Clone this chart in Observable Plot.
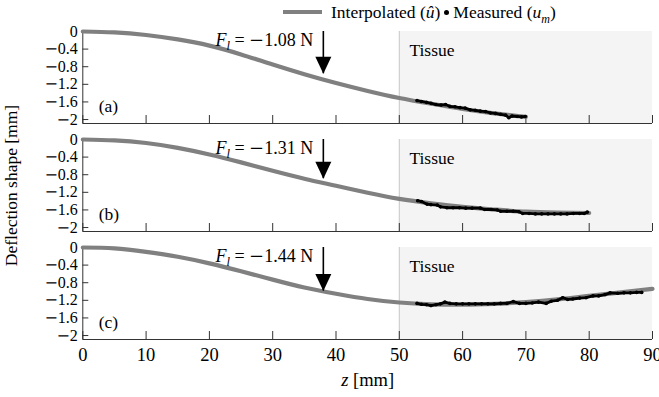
<!DOCTYPE html>
<html><head><meta charset="utf-8">
<script src="https://cdn.jsdelivr.net/npm/d3@7"></script>
<script src="https://cdn.jsdelivr.net/npm/@observablehq/plot@0.6"></script>
<style>
body{margin:0;background:#fff;font-family:"Liberation Serif","Times New Roman",Times,"DejaVu Serif",serif;}
#legend{height:24px;display:flex;align-items:center;padding-left:283px;font-size:17.5px;white-space:nowrap;color:#000;}
.sw{display:inline-block;width:39px;height:4px;background:#808080;margin-right:9px;}
.dot{display:inline-block;width:5px;height:5px;border-radius:50%;background:#000;margin:0 4px;}
sub{font-size:12px;line-height:0;}
</style></head><body>
<div id="legend"><span class="sw"></span>Interpolated (<i>û</i>)<span class="dot"></span>Measured (<i>u<sub>m</sub></i>)</div>
<div id="chart"></div>
<script>
const panels = ["a", "b", "c"];
const panelLabels = ["(a)", "(b)", "(c)"];
const forces = ["−1.08", "−1.31", "−1.44"];
const xTicks = [0, 10, 20, 30, 40, 50, 60, 70, 80, 90];
const yTicks = [0, -0.4, -0.8, -1.2, -1.6, -2];

// interpolated deflection shape û (every 5 mm)
const zHat = [0, 5, 10, 15, 20, 25, 30, 35, 40, 45, 50, 55, 60, 65, 70, 75, 80, 85, 90];
const uHatA = [0, -0.02, -0.08, -0.18, -0.32, -0.52, -0.75, -0.97, -1.17, -1.35, -1.51, -1.64, -1.76, -1.86, -1.94];
const uHatB = [0, -0.02, -0.08, -0.19, -0.34, -0.52, -0.71, -0.89, -1.05, -1.21, -1.35, -1.45, -1.53, -1.59, -1.64, -1.66, -1.67];
const uHatC = [0, -0.02, -0.10, -0.21, -0.36, -0.54, -0.73, -0.91, -1.05, -1.17, -1.25, -1.29, -1.30, -1.28, -1.24, -1.18, -1.10, -1.02, -0.94];

// measured deflection u_m
const measAz = [52.8, 53.5, 54.3, 55, 55.8, 56.6, 57.3, 58, 58.8, 59.6, 60.4, 61.2, 62, 62.8, 63.6, 64.4, 65.2, 66, 66.8, 67.3, 67.8, 68.6, 69.3, 69.9];
const measAu = [-1.57, -1.59, -1.61, -1.63, -1.66, -1.67, -1.66, -1.70, -1.71, -1.73, -1.74, -1.78, -1.79, -1.81, -1.82, -1.85, -1.86, -1.88, -1.90, -1.96, -1.92, -1.93, -1.94, -1.93];
const measBz = [52.9, 53.5, 54.4, 55, 56, 56.5, 57.5, 58.5, 59.5, 60.5, 61.5, 62.8, 63.5, 64.5, 65.5, 66, 67, 68, 68.9, 69.5, 70.5, 71.5, 72.5, 73.5, 74.5, 75.5, 76.5, 77.5, 78.5, 79.2, 79.7];
const measBu = [-1.39, -1.41, -1.47, -1.48, -1.49, -1.53, -1.55, -1.55, -1.55, -1.56, -1.56, -1.56, -1.59, -1.59, -1.60, -1.63, -1.63, -1.63, -1.64, -1.68, -1.68, -1.69, -1.69, -1.69, -1.69, -1.69, -1.69, -1.68, -1.68, -1.68, -1.65];
const measCz = [52.8, 53.5, 54.3, 55, 55.8, 56.5, 57.2, 58, 59, 60, 61, 62, 63, 64, 65, 66, 67, 68, 69, 70, 71, 72, 73.2, 74, 75, 75.8, 76.6, 77.4, 78.5, 79.5, 80.6, 81.5, 82.5, 83.3, 84.5, 85.5, 86.5, 87.5, 88.3];
const measCu = [-1.27, -1.29, -1.30, -1.32, -1.30, -1.28, -1.24, -1.27, -1.28, -1.28, -1.28, -1.28, -1.28, -1.28, -1.28, -1.27, -1.27, -1.23, -1.27, -1.27, -1.26, -1.24, -1.27, -1.22, -1.20, -1.14, -1.18, -1.17, -1.15, -1.14, -1.10, -1.10, -1.07, -1.03, -1.04, -1.03, -1.03, -1.02, -1.02];

// load arrow
const arrowZ = [38, 38, 38];
const arrowTip = [-0.96, -0.89, -0.99];

const tissue = [{z1: 50, z2: 90}];
const yMin = -2.09;

const uHats = [uHatA, uHatB, uHatC];
const measZ = [measAz, measBz, measCz];
const measU = [measAu, measBu, measCu];

const interp = panels.flatMap((p, i) => uHats[i].map((u, j) => ({panel: p, z: zHat[j], u})));
const meas = panels.flatMap((p, i) => measZ[i].map((z, j) => ({panel: p, z, u: measU[i][j]})));
const arrows = panels.map((p, i) => ({panel: p, z: arrowZ[i], tip: arrowTip[i], force: forces[i], label: panelLabels[i]}));

const arrowHead = {
  draw(ctx) { ctx.moveTo(0, 0); ctx.lineTo(-8, -17); ctx.lineTo(8, -17); ctx.closePath(); }
};
const fmt = d => d === 0 ? "0" : "−" + Math.abs(d);
const FONT = '"Liberation Serif", "Times New Roman", Times, "DejaVu Serif", serif';

const chart = Plot.plot({
  width: 659, height: 373,
  marginTop: 6, marginBottom: 57.3, marginLeft: 82.3, marginRight: 7,
  style: {fontFamily: FONT, fontSize: "16px", background: "white", color: "black", overflow: "visible"},
  x: {domain: [0, 90]},
  y: {domain: [yMin, 0]},
  fy: {domain: panels, paddingInner: 0.151, paddingOuter: 0, axis: null},
  marks: [
    Plot.rect(tissue, {x1: "z1", x2: "z2", y1: yMin, y2: 0, fill: "#f4f4f4"}),
    Plot.ruleX(tissue, {x: "z1", y1: yMin, y2: 0, stroke: "#c8c8c8", strokeWidth: 1}),
    Plot.axisY({ticks: yTicks, tickSize: -6, text: null, label: null, stroke: "#333"}),
    Plot.axisY({ticks: yTicks, tickSize: 0, tickPadding: 5, tickFormat: fmt, label: null, fontSize: 16}),
    Plot.axisX({ticks: xTicks, tickSize: -8, text: null, label: null, facetAnchor: null, stroke: "#333"}),
    Plot.axisX({ticks: xTicks, tickSize: 0, tickPadding: 8, tickFormat: d => String(d), fontSize: 18.5,
                label: "z [mm]", labelAnchor: "center", labelOffset: 46, labelArrow: "none"}),
    Plot.axisFy({anchor: "left", text: null, tickSize: 0, label: "Deflection shape [mm]", labelAnchor: "center",
                 labelOffset: 78, labelArrow: "none", fontSize: 17.5}),
    Plot.ruleY([yMin], {stroke: "#333", strokeWidth: 1}),
    Plot.ruleX([0], {y1: yMin, y2: 0, stroke: "#333", strokeWidth: 1}),
    Plot.line(interp, {x: "z", y: "u", fy: "panel", stroke: "#808080", strokeWidth: 4.2, curve: "natural"}),
    Plot.line(meas, {x: "z", y: "u", fy: "panel", stroke: "black", strokeWidth: 2.8}),
    Plot.dot(meas, {x: "z", y: "u", fy: "panel", fill: "black", r: 1.8}),
    Plot.ruleX(arrows, {x: "z", y1: 0, y2: "tip", fy: "panel", stroke: "black", strokeWidth: 1.6}),
    Plot.dot(arrows, {x: "z", y: "tip", fy: "panel", symbol: arrowHead, fill: "black", r: 5}),
    Plot.text(arrows, {x: 36.4, y: 0, dy: 9, fy: "panel", text: d => "F_l = " + d.force + " N", textAnchor: "end", fontSize: 18}),
    Plot.text(arrows, {x: 51.6, y: 0, dy: 19, fy: "panel", text: () => "Tissue", textAnchor: "start", fontSize: 17.5}),
    Plot.text(arrows, {x: 2.5, y: -1.71, fy: "panel", text: "label", textAnchor: "start", fontSize: 17.5})
  ]
});

const MINUS = '<tspan font-family="DejaVu Serif">−</tspan>';
chart.querySelectorAll("text").forEach(t => {
  const s = t.textContent;
  if (t.children.length !== 0) return;
  let m = s.match(/^F_l = −(.*)$/);
  if (m) {
    t.innerHTML = '<tspan font-style="italic">F</tspan><tspan font-style="italic" font-size="12.5" dy="4">l</tspan><tspan dy="-4"> = </tspan>' + MINUS + '<tspan>' + m[1] + '</tspan>';
  } else if (s === "z [mm]") {
    t.innerHTML = '<tspan font-style="italic">z</tspan> [mm]';
  } else if (/^−[0-9.]+$/.test(s)) {
    t.innerHTML = MINUS + s.slice(1);
  }
});
document.getElementById("chart").appendChild(chart);
</script></body></html>
